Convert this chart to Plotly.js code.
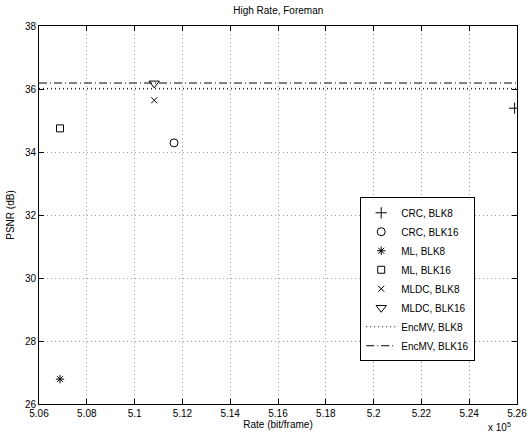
<!DOCTYPE html>
<html><head><meta charset="utf-8">
<script src="https://cdn.plot.ly/plotly-3.0.1.min.js"></script>
<style>html,body{margin:0;padding:0;background:#fff}#chart{width:528px;height:436px}</style>
</head><body><div id="chart"></div>
<script>
// Rate in units of 10^5 bit/frame, PSNR in dB
const seriesNames = ["CRC, BLK8","CRC, BLK16","ML, BLK8","ML, BLK16","MLDC, BLK8","MLDC, BLK16"];
const seriesRate = [5.259, 5.1165, 5.0688, 5.0688, 5.1082, 5.1082];
const seriesPSNR = [35.39, 34.29, 26.79, 34.75, 35.64, 36.18];
const seriesSymbols = ["cross-thin-open","circle-open","asterisk-open","square-open","x-thin-open","triangle-down-open"];
const seriesSizes = [8, 8, 7, 7, 6, 9];
const lineNames = ["EncMV, BLK8","EncMV, BLK16"];
const linePSNR = [36.02, 36.19];
const lineDash = ["1px,3px","8px,3px,1px,3px"];
const xRange = [5.06, 5.26];
const yRange = [26, 38];
const xTickVals = [5.06,5.08,5.10,5.12,5.14,5.16,5.18,5.20,5.22,5.24,5.26];
const xTickText = ["5.06","5.08","5.1","5.12","5.14","5.16","5.18","5.2","5.22","5.24","5.26"];
const yTickVals = [26,28,30,32,34,36,38];

const traces = [];
for (let i = 0; i < seriesNames.length; i++) {
  traces.push({
    x: [seriesRate[i]], y: [seriesPSNR[i]], name: seriesNames[i],
    type: 'scatter', mode: 'markers',
    marker: {symbol: seriesSymbols[i], size: seriesSizes[i], color: '#000', line: {color: '#000', width: 1}}
  });
}
for (let i = 0; i < lineNames.length; i++) {
  traces.push({
    x: xRange, y: [linePSNR[i], linePSNR[i]], name: lineNames[i],
    type: 'scatter', mode: 'lines',
    line: {color: '#000', width: 1, dash: lineDash[i]}
  });
}

const font = {family: 'Liberation Sans, Arial, sans-serif', size: 10, color: '#000'};
const axisCommon = {
  showline: true, linecolor: '#000', linewidth: 1, mirror: 'ticks',
  ticks: 'inside', ticklen: 5, tickcolor: '#000', tickwidth: 1,
  showgrid: true, gridcolor: '#a0a0a0', gridwidth: 1, griddash: '1px,3px',
  zeroline: false, tickfont: font
};
const layout = {
  width: 528, height: 436,
  margin: {l: 39, r: 11, t: 26, b: 32},
  paper_bgcolor: '#fff', plot_bgcolor: '#fff',
  font: font,
  title: {text: 'High Rate, Foreman', font: {family: font.family, size: 10, color: '#000'}, x: 0.527, xanchor: 'center', y: 0.985, yanchor: 'top'},
  xaxis: Object.assign({}, axisCommon, {
    range: xRange, tickmode: 'array', tickvals: xTickVals, ticktext: xTickText,
    title: {text: 'Rate (bit/frame)', font: font, standoff: 2}
  }),
  yaxis: Object.assign({}, axisCommon, {
    range: yRange, tickmode: 'array', tickvals: yTickVals,
    title: {text: 'PSNR (dB)', font: font, standoff: 8}
  }),
  showlegend: true,
  legend: {
    x: 0.672, y: 0.33, xanchor: 'left', yanchor: 'middle',
    bgcolor: '#fff', bordercolor: '#000', borderwidth: 1,
    font: font, tracegroupgap: 0, itemwidth: 30
  },
  annotations: [{
    text: 'x 10<sup>5</sup>', xref: 'paper', yref: 'paper', x: 0.964, y: -0.083,
    xanchor: 'center', yanchor: 'bottom', showarrow: false, font: font
  }]
};
Plotly.newPlot('chart', traces, layout, {displayModeBar: false, staticPlot: true});
</script></body></html>
